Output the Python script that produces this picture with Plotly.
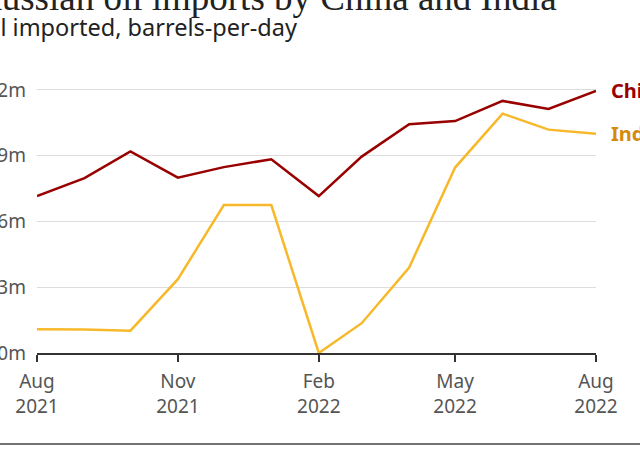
import plotly.graph_objects as go

months = ["2021-08-01", "2021-09-01", "2021-10-01", "2021-11-01", "2021-12-01",
          "2022-01-01", "2022-02-01", "2022-03-01", "2022-04-01", "2022-05-01",
          "2022-06-01", "2022-07-01", "2022-08-01"]
china = [0.716, 0.798, 0.920, 0.800, 0.848, 0.884, 0.716, 0.896, 1.044, 1.058, 1.150, 1.113, 1.196]
india = [0.108, 0.107, 0.102, 0.337, 0.675, 0.675, 0.0, 0.136, 0.390, 0.846, 1.092, 1.019, 1.000]

x_tickvals = ["2021-08-01", "2021-11-01", "2022-02-01", "2022-05-01", "2022-08-01"]
x_ticktext = ["Aug<br>2021", "Nov<br>2021", "Feb<br>2022", "May<br>2022", "Aug<br>2022"]
y_tickvals = [0, 0.3, 0.6, 0.9, 1.2]
y_ticktext = ["0m", "0.3m", "0.6m", "0.9m", "1.2m"]

title = "Russian oil imports by China and India"
subtitle = "Oil imported, barrels-per-day"

CHINA_C = "#990000"
INDIA_C = "#F7B82A"
INDIA_LABEL_C = "#D68A0C"

fig = go.Figure()
fig.add_trace(go.Scatter(x=months, y=india, mode="lines", name="India",
                         line=dict(color=INDIA_C, width=2.5), cliponaxis=False))
fig.add_trace(go.Scatter(x=months, y=china, mode="lines", name="China",
                         line=dict(color=CHINA_C, width=2.5), cliponaxis=False))

L, R, T, B = 37, 44, 79, 97
W, H = 640, 450
pw = W - L - R
ph = H - T - B

def px_x(p):
    return (p - L) / pw

def px_y(p):
    return (H - B - p) / ph

fig.update_layout(
    width=W, height=H,
    margin=dict(l=L, r=R, t=T, b=B, autoexpand=False),
    paper_bgcolor="white", plot_bgcolor="white",
    showlegend=False,
    font=dict(family="Noto Sans", color="#555555", size=18),
    xaxis=dict(
        type="date",
        range=["2021-08-01", "2022-08-01"],
        tickvals=x_tickvals, ticktext=x_ticktext,
        showgrid=False, zeroline=False,
        showline=True, linecolor="#333333", linewidth=2,
        ticks="outside", ticklen=7, tickwidth=1.5, tickcolor="#333333",
        ticklabelstandoff=3,
        tickfont=dict(size=19, color="#555555"),
        automargin=False,
    ),
    yaxis=dict(
        range=[0, 1.25],
        tickvals=y_tickvals, ticktext=y_ticktext,
        showgrid=True, gridcolor="#DDDDDD", gridwidth=1,
        zeroline=False, showline=False, ticks="",
        ticklabelstandoff=10,
        tickfont=dict(size=19, color="#555555"),
        automargin=False,
    ),
)

annotations = [
    dict(text=title, xref="paper", yref="paper", x=px_x(-25), y=px_y(20),
         xanchor="left", yanchor="bottom", showarrow=False,
         font=dict(family="Liberation Serif", size=37, color="#222222")),
    dict(text=subtitle, xref="paper", yref="paper", x=px_x(-26), y=px_y(45),
         xanchor="left", yanchor="bottom", showarrow=False,
         font=dict(family="Noto Sans", size=23.5, color="#222222")),
    dict(text="<b>China</b>", xref="paper", yref="y", x=px_x(609), y=china[-1],
         xanchor="left", yanchor="middle", showarrow=False,
         font=dict(family="Noto Sans", size=20, color=CHINA_C)),
    dict(text="<b>India</b>", xref="paper", yref="y", x=px_x(609), y=india[-1],
         xanchor="left", yanchor="middle", showarrow=False,
         font=dict(family="Noto Sans", size=20, color=INDIA_LABEL_C)),
]
fig.update_layout(annotations=annotations)

fig.add_shape(type="line", xref="paper", yref="paper",
              x0=px_x(-5), x1=px_x(645), y0=px_y(444), y1=px_y(444),
              line=dict(color="#444444", width=1.5))

fig.write_html("out.html")
